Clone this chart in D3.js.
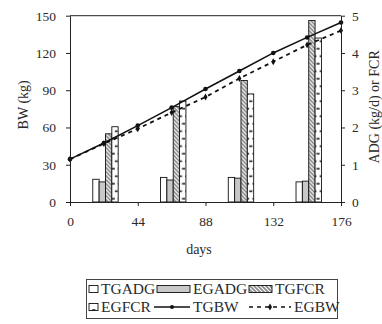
<!DOCTYPE html>
<html>
<head>
<meta charset="utf-8">
<script src="https://cdn.jsdelivr.net/npm/d3@7"></script>
<style>
  body { margin: 0; background: #fff; }
</style>
</head>
<body>
<svg id="chart" width="382" height="324"></svg>
<script>
// body weight lines, sampled every 22 days
const bwDays = [0, 22, 44, 66, 88, 110, 132, 154, 176];
const TGBW = [34.5, 47.5, 61.5, 76, 91, 105.5, 120, 132.5, 144.5];
const EGBW = [34.5, 47, 59, 72, 84.5, 99.5, 113, 126.5, 138];

// bar groups (ADG / FCR), one per period
const barDays = [22, 66, 110, 154];
const TGADG = [0.61, 0.66, 0.66, 0.54];
const EGADG = [0.54, 0.59, 0.64, 0.56];
const TGFCR = [1.83, 2.56, 3.26, 4.87];
const EGFCR = [2.02, 2.71, 2.90, 4.40];
const barKeys = ['TGADG', 'EGADG', 'TGFCR', 'EGFCR'];

const xTicks = [0, 44, 88, 132, 176];
const yTicks = [0, 30, 60, 90, 120, 150];
const y2Ticks = [0, 1, 2, 3, 4, 5];

const FONT = '"Liberation Serif", "Times New Roman", Times, serif';
const INK = '#2a2a2a';

const svg = d3.select('#chart').style('font-family', FONT);
const margin = {top: 15.7, right: 41, bottom: 122, left: 70};
const W = 382, H = 324;
const width = W - margin.left - margin.right;
const height = H - margin.top - margin.bottom;

const defs = svg.append('defs');
const hatch = defs.append('pattern')
  .attr('id', 'hatch').attr('patternUnits', 'userSpaceOnUse')
  .attr('width', 4).attr('height', 4);
hatch.append('rect').attr('width', 4).attr('height', 4).attr('fill', '#fff');
hatch.append('path').attr('d', 'M-1,-1 L5,5 M-1,3 L1,5 M3,-1 L5,1')
  .attr('stroke', '#888').attr('stroke-width', 1.6);

const brick = defs.append('pattern')
  .attr('id', 'brick').attr('patternUnits', 'userSpaceOnUse')
  .attr('width', 6.4).attr('height', 15);
brick.append('rect').attr('width', 6.4).attr('height', 15).attr('fill', '#fff');
brick.append('path').attr('d', 'M3.2,3 L6.4,3 M0,10.5 L3.2,10.5')
  .attr('stroke', '#111').attr('stroke-width', 1.4);

const g = svg.append('g').attr('transform', `translate(${margin.left},${margin.top})`);

const x = d3.scaleLinear().domain([0, 176]).range([0, width]);
const y = d3.scaleLinear().domain([0, 150]).range([height, 0]);
const y2 = d3.scaleLinear().domain([0, 5]).range([height, 0]);

// bars
const barW = 6.35;
const groupOffset = 1.6;
const fills = {TGADG: '#fff', EGADG: '#c8c8c8', TGFCR: 'url(#hatch)', EGFCR: 'url(#brick)'};
const barData = {TGADG, EGADG, TGFCR, EGFCR};
const inner = d3.scaleBand().domain(barKeys).range([-2 * barW, 2 * barW]);

barKeys.forEach(k => {
  g.append('g').selectAll('rect')
    .data(barDays.map((d, i) => ({day: d, v: barData[k][i]})))
    .join('rect')
    .attr('x', d => x(d.day) + groupOffset + inner(k))
    .attr('y', d => y2(d.v))
    .attr('width', inner.bandwidth())
    .attr('height', d => height - y2(d.v))
    .attr('fill', fills[k])
    .attr('stroke', '#111')
    .attr('stroke-width', 0.9);
});

// lines
const line = vals => d3.line().x((d, i) => x(bwDays[i])).y(d => y(d))(vals);
g.append('path').attr('d', line(EGBW)).attr('fill', 'none')
  .attr('stroke', '#111').attr('stroke-width', 1.8).attr('stroke-dasharray', '4,4');
g.append('path').attr('d', line(TGBW)).attr('fill', 'none')
  .attr('stroke', '#111').attr('stroke-width', 1.5);

g.append('g').selectAll('path')
  .data(EGBW).join('path')
  .attr('d', d3.symbol(d3.symbolDiamond, 14)())
  .attr('transform', (d, i) => `translate(${x(bwDays[i])},${y(d)})`)
  .attr('fill', '#111');
g.append('g').selectAll('circle')
  .data(TGBW).join('circle')
  .attr('cx', (d, i) => x(bwDays[i])).attr('cy', d => y(d))
  .attr('r', 2.3).attr('fill', '#111');

// axes
const styleAxis = sel => {
  sel.selectAll('path,line').attr('stroke', '#222').attr('stroke-width', 1);
  sel.selectAll('text').attr('font-family', FONT).style('font-size', '13.5px').attr('fill', INK);
};
g.append('g').attr('transform', `translate(0,${height})`)
  .call(d3.axisBottom(x).tickValues(xTicks).tickSize(4).tickPadding(10).tickSizeOuter(0))
  .call(styleAxis);
g.append('g')
  .call(d3.axisLeft(y).tickValues(yTicks).tickSize(4).tickPadding(10).tickSizeOuter(0))
  .call(styleAxis);
g.append('g').attr('transform', `translate(${width},0)`)
  .call(d3.axisRight(y2).tickValues(y2Ticks).tickFormat(d3.format('d'))
    .tickSize(4).tickPadding(7).tickSizeOuter(0))
  .call(styleAxis);
g.append('line').attr('x1', 0).attr('x2', width).attr('y1', 0).attr('y2', 0)
  .attr('stroke', '#222');

// titles
const title = (sel, size) => sel.attr('font-family', FONT).style('font-size', size).attr('fill', INK);
const midY = margin.top + height / 2;
svg.append('text').attr('x', 199).attr('y', 254).attr('text-anchor', 'middle')
  .call(title, '14px').text('days');
svg.append('text').attr('transform', `translate(23,${midY - 4}) rotate(-90)`)
  .attr('text-anchor', 'middle').attr('dy', '0.35em').call(title, '14px').text('BW (kg)');
svg.append('text').attr('transform', `translate(374,${midY - 2}) rotate(-90)`)
  .attr('text-anchor', 'middle').attr('dy', '0.35em').call(title, '14px')
  .text('ADG (kg/d) or FCR');

// legend
const legendItems = [
  {name: 'TGADG', type: 'bar', fill: '#fff', col: 89, row: 0, w: 9},
  {name: 'EGADG', type: 'bar', fill: '#c8c8c8', col: 157, row: 0, w: 33},
  {name: 'TGFCR', type: 'bar', fill: 'url(#hatch)', col: 249, row: 0, w: 23},
  {name: 'EGFCR', type: 'bar', fill: 'url(#brick)', col: 89, row: 1, w: 9},
  {name: 'TGBW', type: 'solid', col: 154, row: 1, w: 36},
  {name: 'EGBW', type: 'dash', col: 249, row: 1, w: 42}
];
svg.append('rect').attr('x', 86.5).attr('y', 279.5).attr('width', 251).attr('height', 39)
  .attr('fill', 'none').attr('stroke', '#444');
const lg = svg.append('g').selectAll('g').data(legendItems).join('g')
  .attr('transform', d => `translate(${d.col},${289 + d.row * 18})`);
lg.filter(d => d.type === 'bar').append('rect')
  .attr('x', 0).attr('y', -3.5).attr('width', d => d.w).attr('height', 7)
  .attr('fill', d => d.fill).attr('stroke', '#111').attr('stroke-width', 0.9);
lg.filter(d => d.type !== 'bar').append('line')
  .attr('x1', 0).attr('x2', d => d.w).attr('y1', 0).attr('y2', 0)
  .attr('stroke', '#111').attr('stroke-width', 1.5)
  .attr('stroke-dasharray', d => d.type === 'dash' ? '4,4' : null);
lg.filter(d => d.type === 'solid').append('circle')
  .attr('cx', d => d.w / 2).attr('r', 2).attr('fill', '#111');
lg.filter(d => d.type === 'dash').append('path')
  .attr('d', d3.symbol(d3.symbolDiamond, 14)())
  .attr('transform', d => `translate(${d.w / 2},0)`).attr('fill', '#111');
lg.append('text').attr('x', d => d.w + 3).attr('dy', '0.35em')
  .call(title, '15.5px').text(d => d.name);
</script>
</body>
</html>
